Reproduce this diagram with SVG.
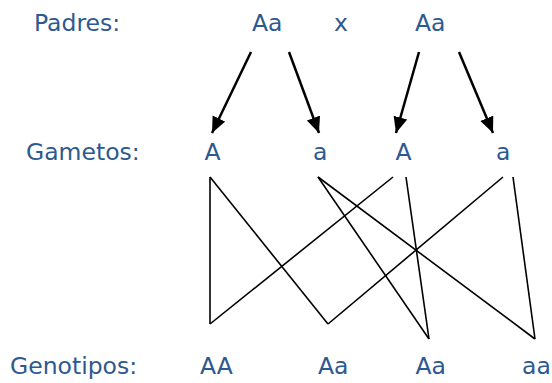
<svg xmlns="http://www.w3.org/2000/svg" width="552" height="383" viewBox="0 0 552 383">
  <style>
    .t { font-family: "DejaVu Sans", Verdana, sans-serif; font-size: 23.5px; fill: #2d5990; }
    .arr { stroke: #000; stroke-width: 2.5; fill: none; marker-end: url(#ah); }
    .ln { stroke: #000; stroke-width: 1.6; fill: none; }
  </style>
  <defs>
    <marker id="ah" markerUnits="userSpaceOnUse" markerWidth="18" markerHeight="15" refX="16" refY="7" orient="auto">
      <path d="M0,0 L16,7 L0,14 Z" fill="#000"/>
    </marker>
  </defs>
  <rect width="552" height="383" fill="#fff"/>

  <g id="labels">
    <text class="t" x="34" y="31">Padres:</text>
    <text class="t" x="26" y="160">Gametos:</text>
    <text class="t" x="10" y="374">Genotipos:</text>
  </g>

  <g id="parent1"><text class="t" x="252" y="31">Aa</text></g>
  <g id="cross"><text class="t" x="334" y="31">x</text></g>
  <g id="parent2"><text class="t" x="415" y="31">Aa</text></g>

  <g id="gamete1"><text class="t" x="204.5" y="160">A</text></g>
  <g id="gamete2"><text class="t" x="313" y="160">a</text></g>
  <g id="gamete3"><text class="t" x="395.5" y="160">A</text></g>
  <g id="gamete4"><text class="t" x="496" y="160">a</text></g>

  <g id="geno1"><text class="t" x="200" y="374">AA</text></g>
  <g id="geno2"><text class="t" x="318" y="374">Aa</text></g>
  <g id="geno3"><text class="t" x="415.5" y="374">Aa</text></g>
  <g id="geno4"><text class="t" x="522" y="374">aa</text></g>

  <g id="connectors">
    <line class="arr" x1="251" y1="52" x2="212" y2="133"/>
    <line class="arr" x1="289" y1="52" x2="319" y2="133"/>
    <line class="arr" x1="419" y1="52" x2="396" y2="133"/>
    <line class="arr" x1="459" y1="52" x2="493" y2="133"/>

    <line class="ln" x1="210" y1="177" x2="210" y2="324"/>
    <line class="ln" x1="210" y1="177" x2="328" y2="324"/>
    <line class="ln" x1="318" y1="177" x2="429" y2="339"/>
    <line class="ln" x1="318" y1="177" x2="535" y2="339"/>
    <line class="ln" x1="393" y1="177" x2="210" y2="324"/>
    <line class="ln" x1="406" y1="177" x2="429" y2="339"/>
    <line class="ln" x1="503" y1="177" x2="328" y2="324"/>
    <line class="ln" x1="513" y1="177" x2="535" y2="339"/>
  </g>
</svg>
